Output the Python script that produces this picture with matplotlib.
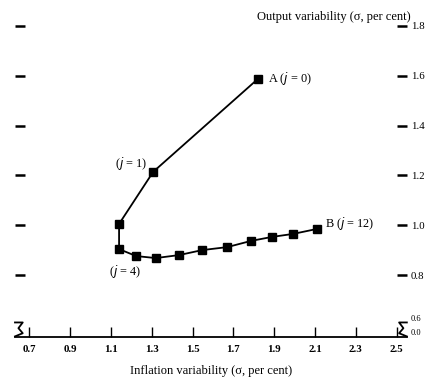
import matplotlib
matplotlib.use("Agg")
import matplotlib.pyplot as plt

# inflation sigma vs output sigma for j = 0..12
infl = [1.82, 1.307, 1.14, 1.14, 1.224, 1.32, 1.434, 1.547, 1.67, 1.787, 1.89, 1.993, 2.11]
outp = [1.587, 1.214, 1.005, 0.904, 0.876, 0.868, 0.880, 0.900, 0.912, 0.937, 0.953, 0.965, 0.985]

xticks = [0.7, 0.9, 1.1, 1.3, 1.5, 1.7, 1.9, 2.1, 2.3, 2.5]
yticks = [0.8, 1.0, 1.2, 1.4, 1.6, 1.8]
ybreak = 0.551  # where the broken axis shows 0.0

plt.rcParams['font.family'] = ['Liberation Serif', 'DejaVu Serif']

fig = plt.figure(figsize=(4.33, 3.83), dpi=100)
ax = fig.add_axes([0.0346, 0.120, 0.905, 0.828])

ax.plot(infl, outp, color='black', lw=1.3, marker='s', ms=6.3, mfc='black', mec='black')

ax.set_xlim(0.63, 2.55)
ax.set_ylim(ybreak, 1.824)

for s in ['left', 'right', 'top']:
    ax.spines[s].set_visible(False)
ax.spines['bottom'].set_linewidth(1.3)

ax.set_xticks(xticks)
ax.set_xticklabels([f'{v:.1f}' for v in xticks], fontsize=7.8, fontweight='bold')
ax.tick_params(axis='x', direction='in', length=7, width=1, pad=6)

ax.set_yticks(yticks)
ax.set_yticklabels([f'{v:.1f}' for v in yticks], fontsize=7.8)
ax.tick_params(axis='y', direction='in', length=7, width=1.8, pad=3,
               left=True, right=True, labelleft=False, labelright=True)

# small labels at the axis break
tr = ax.get_yaxis_transform()
ax.text(1.01, 0.624, '0.6', transform=tr, fontsize=6, va='center', ha='left')
ax.text(1.01, 0.569, '0.0', transform=tr, fontsize=6, va='center', ha='left')

# break marks on the axes
for x0, sgn in [(0.0, 1), (1.0, -1)]:
    dx = 0.022
    xs = [x0, x0 + sgn * dx * 0.9, x0 + sgn * dx * 0.4, x0 + sgn * dx * 0.9, x0]
    ys = [0.046, 0.046, 0.028, 0.012, 0.002]
    ax.plot(xs, ys, transform=ax.transAxes, color='black', lw=1.3, clip_on=False)

# annotations
fs = 8.8
ax.annotate('A ($j$ = 0)', xy=(infl[0], outp[0]), xytext=(7, 0), textcoords='offset points',
            fontsize=fs, va='center', ha='left')
ax.annotate('($j$ = 1)', xy=(infl[1], outp[1]), xytext=(-4, 6), textcoords='offset points',
            fontsize=fs, va='center', ha='right')
ax.annotate('B ($j$ = 12)', xy=(infl[12], outp[12]), xytext=(6, 4), textcoords='offset points',
            fontsize=fs, va='center', ha='left')
ax.annotate('($j$ = 4)', xy=(infl[3], outp[3]), xytext=(4, -16), textcoords='offset points',
            fontsize=fs, va='center', ha='center')

ax.set_xlabel('Inflation variability (σ, per cent)', fontsize=9, labelpad=8)
ax.text(1.01, 0.99, 'Output variability (σ, per cent)', transform=ax.transAxes,
        fontsize=9, ha='right', va='bottom')

fig.savefig('out.png', dpi=100)
